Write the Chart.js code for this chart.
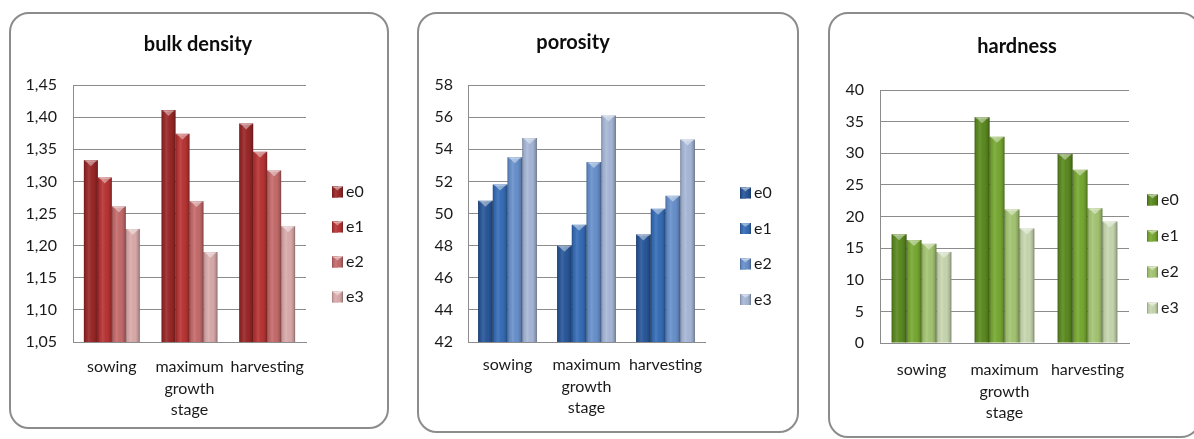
<!DOCTYPE html>
<html>
<head>
<meta charset="utf-8">
<script src="https://cdn.jsdelivr.net/npm/chart.js@4/dist/chart.umd.min.js"></script>
<style>
  html, body { margin: 0; padding: 0; background: #ffffff; overflow: hidden; }
  body { width: 1194px; height: 439px; position: relative; }
  .frame { position: absolute; box-sizing: border-box; border: 2px solid #8c8c8c; border-radius: 20px; background: #ffffff; }
  canvas { position: absolute; }
</style>
</head>
<body>
<div class="frame" style="left:9px;top:12px;width:380px;height:417px"></div>
<div class="frame" style="left:417px;top:12px;width:382px;height:421px"></div>
<div class="frame" style="left:828px;top:12px;width:373px;height:426px"></div>
<canvas id="density" width="380" height="417" style="left:9px;top:12px"></canvas>
<canvas id="porosity" width="382" height="421" style="left:417px;top:12px"></canvas>
<canvas id="hardness" width="366" height="426" style="left:828px;top:12px"></canvas>
<script>
// Growth stages on the x axis
const stages = ['sowing', ['maximum', 'growth', 'stage'], 'harvesting'];
const seriesNames = ['e0', 'e1', 'e2', 'e3'];

// Bulk density per treatment (sowing, maximum growth stage, harvesting)
const densityE0 = [1.333, 1.411, 1.390];
const densityE1 = [1.306, 1.374, 1.346];
const densityE2 = [1.261, 1.269, 1.317];
const densityE3 = [1.226, 1.190, 1.230];

// Porosity per treatment
const porosityE0 = [50.8, 48.0, 48.7];
const porosityE1 = [51.8, 49.3, 50.3];
const porosityE2 = [53.5, 53.2, 51.1];
const porosityE3 = [54.7, 56.1, 54.6];

// Hardness per treatment
const hardnessE0 = [17.2, 35.7, 29.9];
const hardnessE1 = [16.3, 32.6, 27.4];
const hardnessE2 = [15.7, 21.1, 21.3];
const hardnessE3 = [14.4, 18.1, 19.2];

// Value axis ranges
const densityAxis = { min: 1.05, max: 1.45, step: 0.05 };
const porosityAxis = { min: 42, max: 58, step: 2 };
const hardnessAxis = { min: 0, max: 40, step: 5 };

const redShades = ['#9a2727', '#b93434', '#c66b6b', '#dbabab'];
const blueShades = ['#28579a', '#366db8', '#6891cd', '#a7b8d8'];
const greenShades = ['#5b8a20', '#78a932', '#a5c673', '#c8d8b0'];

const FONT = 'Lato, "Open Sans", sans-serif';
const TEXT = '#1a1a1a';
const GRID = '#8c8c8c';
const SWATCH = 11;

// Puts the title and the legend column where each panel wants them
const placement = {
  id: 'placement',
  beforeInit(chart, args, opts) {
    const lg = chart.legend;
    if (!lg) return;
    const fit = lg.fit;
    lg.fit = function () {
      fit.call(this);
      this.width = opts.legendWidth;
    };
  },
  afterLayout(chart, args, opts) {
    const lg = chart.legend;
    if (lg) {
      const pad = lg.options.labels.padding;
      const fs = lg.options.labels.font.size || 16;
      const left = opts.legendX - pad;
      const top = opts.legendY - pad - fs / 2;
      lg.right = left + lg.width;
      lg.left = left;
      lg.top = top;
      lg.bottom = top + 400;
    }
    const t = chart.titleBlock;
    if (t) {
      const half = (t.right - t.left) / 2;
      t.left = opts.titleX - half;
      t.right = opts.titleX + half;
    }
  }
};

// Shading and top bevel on each bar, and on the legend swatches
function bevel(ctx, l, top, w, bottom, tri) {
  const r = l + w, cx = l + w / 2, h = bottom - top;
  const g = ctx.createLinearGradient(l, 0, r, 0);
  g.addColorStop(0, 'rgba(0,0,0,0.30)');
  g.addColorStop(0.12, 'rgba(0,0,0,0.06)');
  g.addColorStop(0.35, 'rgba(255,255,255,0.10)');
  g.addColorStop(0.7, 'rgba(0,0,0,0.02)');
  g.addColorStop(0.88, 'rgba(0,0,0,0.16)');
  g.addColorStop(1, 'rgba(0,0,0,0.38)');
  ctx.fillStyle = g;
  ctx.fillRect(l, top, w, h);
  ctx.fillStyle = 'rgba(255,255,255,0.25)';
  ctx.fillRect(l + 1, top, w - 2, 1.5);
  ctx.beginPath();
  ctx.moveTo(l + 1.5, top + 0.5);
  ctx.lineTo(r - 1.5, top + 0.5);
  ctx.lineTo(cx, top + Math.min(tri, h));
  ctx.closePath();
  ctx.fillStyle = 'rgba(255,255,255,0.42)';
  ctx.fill();
}

const barBevel = {
  id: 'barBevel',
  afterDatasetsDraw(chart) {
    const ctx = chart.ctx;
    const area = chart.chartArea;
    ctx.save();
    ctx.beginPath();
    ctx.rect(area.left, area.top, area.right - area.left, area.bottom - area.top);
    ctx.clip();
    chart.data.datasets.forEach((ds, i) => {
      const meta = chart.getDatasetMeta(i);
      meta.data.forEach(bar => {
        const p = bar.getProps(['x', 'y', 'base', 'width'], true);
        const bottom = Math.min(p.base, area.bottom);
        bevel(ctx, p.x - p.width / 2, p.y, p.width, bottom, 6);
      });
    });
    ctx.restore();
  },
  afterDraw(chart) {
    const lg = chart.legend;
    if (!lg || !lg.legendHitBoxes || !lg.legendItems) return;
    const ctx = chart.ctx;
    const fs = lg.options.labels.font.size || 16;
    ctx.save();
    lg.legendHitBoxes.forEach((hb, i) => {
      const item = lg.legendItems[i];
      const y = hb.top + Math.max((fs - SWATCH) / 2, 0);
      ctx.fillStyle = item.fillStyle;
      ctx.fillRect(hb.left, y, SWATCH, SWATCH);
      bevel(ctx, hb.left, y, SWATCH, y + SWATCH, 4);
    });
    ctx.restore();
  }
};

function makeChart(id, title, values, colors, axis, fmt, geo) {
  const canvas = document.getElementById(id);
  const W = geo.width || canvas.width, H = canvas.height;
  const gap = geo.legendGap - 16;
  return new Chart(canvas, {
    type: 'bar',
    data: {
      labels: stages,
      datasets: seriesNames.map((name, i) => ({
        label: name,
        data: values[i],
        backgroundColor: colors[i],
        borderWidth: 0,
        categoryPercentage: geo.cat,
        barPercentage: 1
      }))
    },
    options: {
      responsive: false,
      animation: false,
      devicePixelRatio: 1,
      layout: { padding: 0 },
      plugins: {
        title: {
          display: true,
          text: title,
          color: '#0d0d0d',
          font: { family: FONT, size: 20, weight: 'bold', lineHeight: 1.2 },
          padding: { top: geo.titleY - 12, bottom: geo.top - geo.titleY - 12 }
        },
        legend: {
          position: 'right',
          align: 'start',
          labels: {
            boxWidth: 6,
            boxHeight: SWATCH,
            padding: gap,
            color: TEXT,
            font: { family: FONT, size: 16 }
          }
        },
        tooltip: { enabled: false },
        placement: {
          legendWidth: W - geo.right,
          legendX: geo.legendX,
          legendY: geo.legendY,
          titleX: geo.titleX
        }
      },
      scales: {
        x: {
          grid: { display: false, drawTicks: false },
          border: { display: true, color: GRID, width: 1 },
          ticks: {
            maxRotation: 0,
            minRotation: 0,
            autoSkip: false,
            padding: geo.xPad,
            color: TEXT,
            font: { family: FONT, size: 16, lineHeight: 1.35 }
          },
          afterFit: s => { s.height = H - geo.bottom; }
        },
        y: {
          min: axis.min,
          max: axis.max,
          grid: { color: GRID, lineWidth: 1, drawTicks: false },
          border: { display: true, color: GRID, width: 1 },
          ticks: {
            stepSize: axis.step,
            padding: geo.yPad,
            color: TEXT,
            font: { family: FONT, size: 16 },
            callback: fmt
          },
          afterFit: s => { s.width = geo.left; }
        }
      }
    },
    plugins: [placement, barBevel]
  });
}

const commaTwo = v => Number(v).toFixed(2).replace('.', ',');
const plain = v => String(Math.round(v));

makeChart('density', 'bulk density',
  [densityE0, densityE1, densityE2, densityE3], redShades, densityAxis, commaTwo,
  { left: 64, right: 297, top: 73, bottom: 330, titleX: 189, titleY: 33,
    legendX: 323, legendY: 180, legendGap: 35, yPad: 16, xPad: 14, cat: 0.72 });

makeChart('porosity', 'porosity',
  [porosityE0, porosityE1, porosityE2, porosityE3], blueShades, porosityAxis, plain,
  { left: 51, right: 288, top: 73, bottom: 330, titleX: 156, titleY: 31,
    legendX: 323, legendY: 181, legendGap: 35.5, yPad: 15, xPad: 12, cat: 0.745 });

makeChart('hardness', 'hardness',
  [hardnessE0, hardnessE1, hardnessE2, hardnessE3], greenShades, hardnessAxis, plain,
  { left: 52, right: 301, top: 78, bottom: 331, titleX: 189, titleY: 35,
    legendX: 319, legendY: 188, legendGap: 36, yPad: 16, xPad: 16, cat: 0.72 });
</script>
</body>
</html>
